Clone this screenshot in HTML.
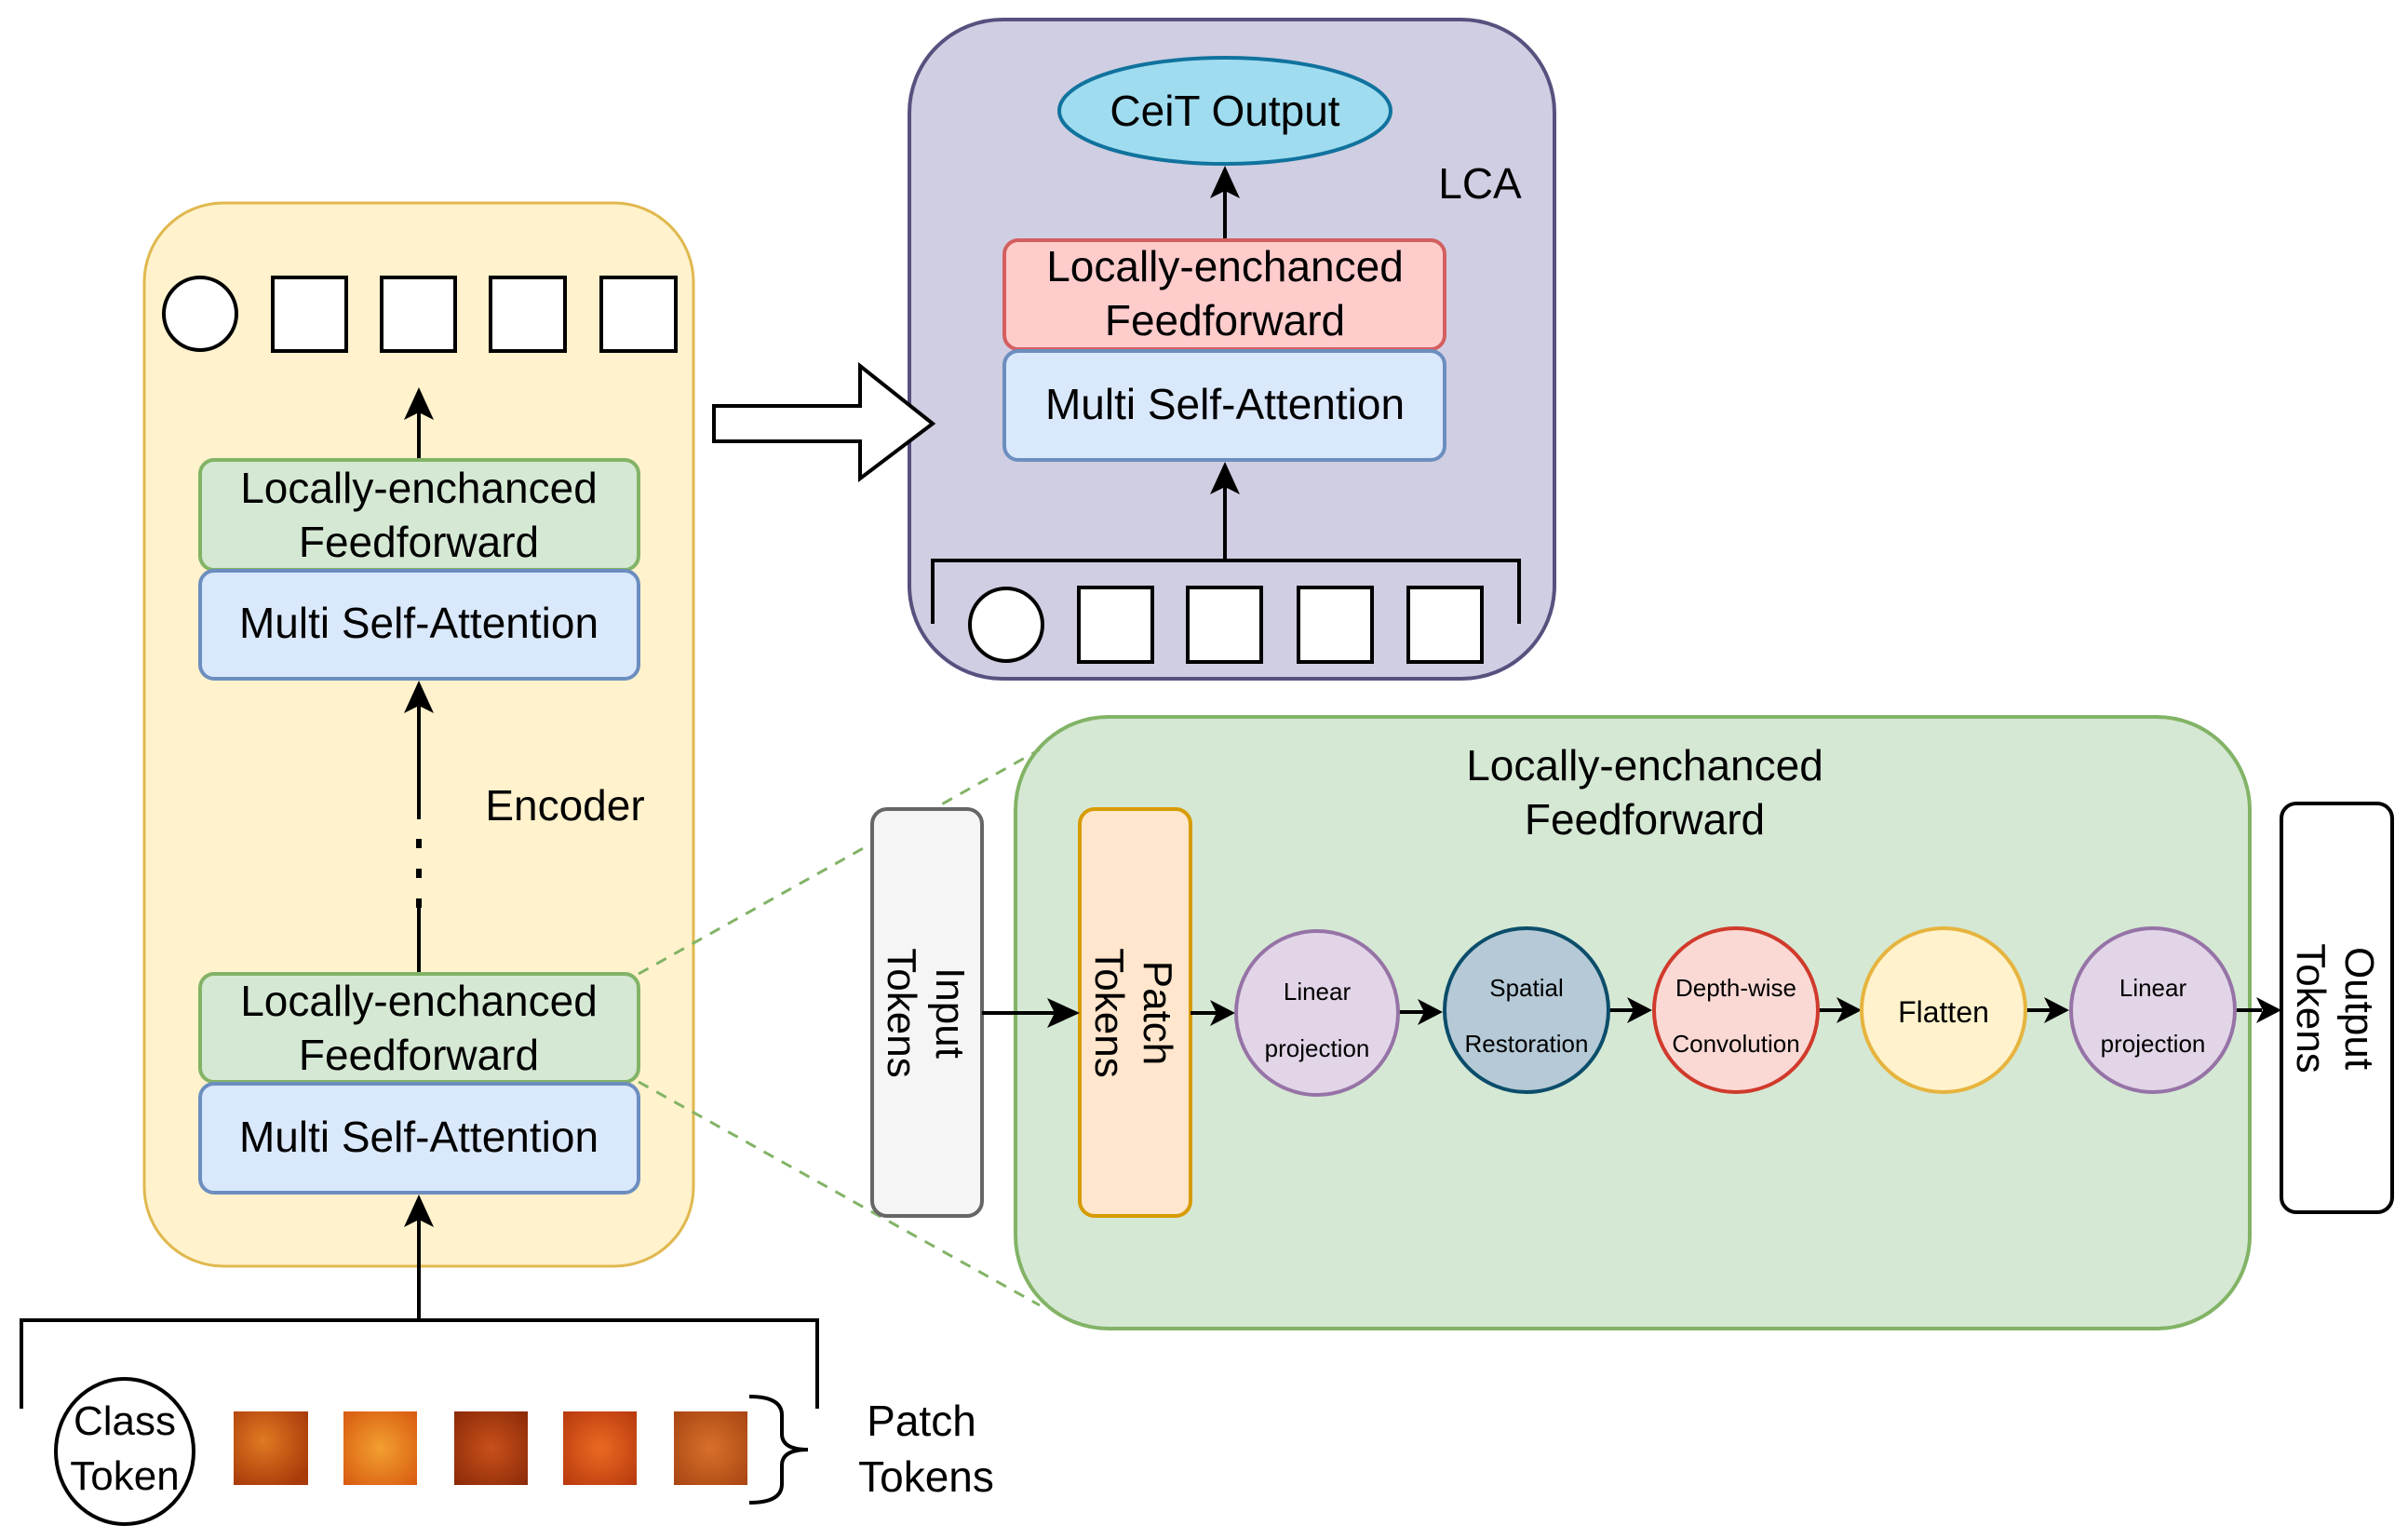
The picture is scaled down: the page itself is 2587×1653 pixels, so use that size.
<!DOCTYPE html>
<html><head><meta charset="utf-8"><style>
html,body{margin:0;padding:0;background:#fff;}
svg{display:block;}
text{font-family:"Liberation Sans",sans-serif;fill:#000;}
</style></head><body>
<svg width="2587" height="1653" viewBox="0 0 2587 1653" xmlns="http://www.w3.org/2000/svg">
<!-- Encoder -->
<rect x="155" y="218" width="590" height="1142" rx="85" fill="#fff2cc" stroke="#e0b84e" stroke-width="3"/>
<circle cx="215" cy="337" r="39" fill="#fff" stroke="#000" stroke-width="4"/>
<rect x="293" y="298" width="79" height="79" fill="#fff" stroke="#000" stroke-width="4"/>
<rect x="410" y="298" width="79" height="79" fill="#fff" stroke="#000" stroke-width="4"/>
<rect x="527" y="298" width="80" height="79" fill="#fff" stroke="#000" stroke-width="4"/>
<rect x="646" y="298" width="80" height="79" fill="#fff" stroke="#000" stroke-width="4"/>
<line x1="450" y1="494" x2="450" y2="440" stroke="#000" stroke-width="4"/>
<polygon points="450,416 434,451 450,443 466,451" fill="#000"/>
<rect x="215" y="494" width="471" height="118" rx="15" fill="#d5e8d4" stroke="#82b366" stroke-width="4"/>
<text x="450" y="540" font-size="46" text-anchor="middle">Locally-enchanced</text>
<text x="450" y="598" font-size="46" text-anchor="middle">Feedforward</text>
<rect x="215" y="613" width="471" height="116" rx="15" fill="#dae8fc" stroke="#6c8ebf" stroke-width="4"/>
<text x="450" y="685" font-size="46" text-anchor="middle">Multi Self-Attention</text>
<line x1="450" y1="1046" x2="450" y2="975" stroke="#000" stroke-width="4"/>
<line x1="450" y1="975" x2="450" y2="880" stroke="#000" stroke-width="6" stroke-dasharray="10,22"/>
<line x1="450" y1="880" x2="450" y2="755" stroke="#000" stroke-width="4"/>
<polygon points="450,731 434,766 450,758 466,766" fill="#000"/>
<text x="607" y="881" font-size="46" text-anchor="middle">Encoder</text>
<rect x="215" y="1046" width="471" height="116" rx="15" fill="#d5e8d4" stroke="#82b366" stroke-width="4"/>
<text x="450" y="1091" font-size="46" text-anchor="middle">Locally-enchanced</text>
<text x="450" y="1149" font-size="46" text-anchor="middle">Feedforward</text>
<rect x="215" y="1164" width="471" height="117" rx="15" fill="#dae8fc" stroke="#6c8ebf" stroke-width="4"/>
<text x="450" y="1237" font-size="46" text-anchor="middle">Multi Self-Attention</text>
<line x1="450" y1="1418" x2="450" y2="1307" stroke="#000" stroke-width="4"/>
<polygon points="450,1283 434,1318 450,1310 466,1318" fill="#000"/>
<!-- bottom bracket -->
<polyline points="23,1513 23,1418 878,1418 878,1513" fill="none" stroke="#000" stroke-width="4"/>
<ellipse cx="134" cy="1559" rx="74" ry="78" fill="#fff" stroke="#000" stroke-width="4"/>
<text x="134" y="1541" font-size="44" text-anchor="middle">Class</text>
<text x="134" y="1600" font-size="44" text-anchor="middle">Token</text>
<defs>
<radialGradient id="p1" cx="40%" cy="40%" r="70%"><stop offset="0" stop-color="#e07a22"/><stop offset="1" stop-color="#a93a0a"/></radialGradient>
<radialGradient id="p2" cx="50%" cy="50%" r="70%"><stop offset="0" stop-color="#f2a030"/><stop offset="1" stop-color="#d85a10"/></radialGradient>
<radialGradient id="p3" cx="50%" cy="50%" r="70%"><stop offset="0" stop-color="#c9501a"/><stop offset="1" stop-color="#8a2a08"/></radialGradient>
<radialGradient id="p4" cx="50%" cy="50%" r="70%"><stop offset="0" stop-color="#ea6a22"/><stop offset="1" stop-color="#b8380e"/></radialGradient>
<radialGradient id="p5" cx="50%" cy="50%" r="70%"><stop offset="0" stop-color="#d8702a"/><stop offset="1" stop-color="#a84512"/></radialGradient>
</defs>
<rect x="251" y="1516" width="80" height="79" fill="url(#p1)"/>
<rect x="369" y="1516" width="79" height="79" fill="url(#p2)"/>
<rect x="488" y="1516" width="79" height="79" fill="url(#p3)"/>
<rect x="605" y="1516" width="79" height="79" fill="url(#p4)"/>
<rect x="724" y="1516" width="79" height="79" fill="url(#p5)"/>
<path d="M805,1500 Q840,1500 840,1520 L840,1540 Q840,1557 868,1557 Q840,1557 840,1574 L840,1594 Q840,1614 805,1614" fill="none" stroke="#000" stroke-width="4"/>
<text x="990" y="1542" font-size="46" text-anchor="middle">Patch</text>
<text x="995" y="1602" font-size="46" text-anchor="middle">Tokens</text>
<!-- LCA -->
<rect x="977" y="21" width="693" height="708" rx="100" fill="#d0cee2" stroke="#56517e" stroke-width="4"/>
<!-- big arrow -->
<polygon points="767,436 924,436 924,393 1002,455 924,514 924,474 767,474" fill="#fff" stroke="#000" stroke-width="4"/>
<ellipse cx="1316" cy="119" rx="178" ry="57" fill="#a0dcf0" stroke="#10739e" stroke-width="4"/>
<text x="1316" y="135" font-size="46" text-anchor="middle">CeiT Output</text>
<text x="1590" y="213" font-size="46" text-anchor="middle">LCA</text>
<line x1="1316" y1="258" x2="1316" y2="200" stroke="#000" stroke-width="4"/>
<polygon points="1316,178 1300,213 1316,205 1332,213" fill="#000"/>
<rect x="1079" y="258" width="473" height="117" rx="15" fill="#ffcccc" stroke="#d35f5f" stroke-width="4"/>
<text x="1316" y="302" font-size="46" text-anchor="middle">Locally-enchanced</text>
<text x="1316" y="360" font-size="46" text-anchor="middle">Feedforward</text>
<rect x="1079" y="377" width="473" height="117" rx="15" fill="#dae8fc" stroke="#6c8ebf" stroke-width="4"/>
<text x="1316" y="450" font-size="46" text-anchor="middle">Multi Self-Attention</text>
<line x1="1316" y1="602" x2="1316" y2="518" stroke="#000" stroke-width="4"/>
<polygon points="1316,496 1300,531 1316,523 1332,531" fill="#000"/>
<polyline points="1002,670 1002,602 1632,602 1632,670" fill="none" stroke="#000" stroke-width="4"/>
<circle cx="1081" cy="671" r="39" fill="#fff" stroke="#000" stroke-width="4"/>
<rect x="1159" y="631" width="79" height="80" fill="#fff" stroke="#000" stroke-width="4"/>
<rect x="1276" y="631" width="79" height="80" fill="#fff" stroke="#000" stroke-width="4"/>
<rect x="1395" y="631" width="79" height="80" fill="#fff" stroke="#000" stroke-width="4"/>
<rect x="1513" y="631" width="79" height="80" fill="#fff" stroke="#000" stroke-width="4"/>
<!-- LeFF detail -->
<rect x="1091" y="770" width="1326" height="657" rx="100" fill="#d5e8d4" stroke="#82b366" stroke-width="4"/>
<line x1="686" y1="1046" x2="1117" y2="805" stroke="#82b366" stroke-width="3" stroke-dasharray="12,10"/>
<line x1="686" y1="1162" x2="1117" y2="1402" stroke="#82b366" stroke-width="3" stroke-dasharray="12,10"/>
<text x="1767" y="838" font-size="46" text-anchor="middle">Locally-enchanced</text>
<text x="1767" y="896" font-size="46" text-anchor="middle">Feedforward</text>
<rect x="937" y="869" width="118" height="437" rx="16" fill="#f5f5f5" stroke="#666" stroke-width="4"/>
<g transform="translate(996,1088) rotate(90)"><text x="0" y="-10" font-size="44" text-anchor="middle">Input</text><text x="0" y="42" font-size="44" text-anchor="middle">Tokens</text></g>
<rect x="1160" y="869" width="119" height="437" rx="16" fill="#ffe6cc" stroke="#d79b00" stroke-width="4"/>
<g transform="translate(1219,1088) rotate(90)"><text x="0" y="-10" font-size="44" text-anchor="middle">Patch</text><text x="0" y="42" font-size="44" text-anchor="middle">Tokens</text></g>
<rect x="2451" y="863" width="119" height="439" rx="16" fill="#fff" stroke="#000" stroke-width="4"/>
<g transform="translate(2510,1083) rotate(90)"><text x="0" y="-10" font-size="44" text-anchor="middle">Output</text><text x="0" y="42" font-size="44" text-anchor="middle">Tokens</text></g>
<!-- arrows -->
<g stroke="#000" stroke-width="4">
<line x1="1055" y1="1088" x2="1140" y2="1088"/>
<line x1="1279" y1="1088" x2="1310" y2="1088"/>
<line x1="1503" y1="1087" x2="1533" y2="1087"/>
<line x1="1728" y1="1085" x2="1758" y2="1085"/>
<line x1="1953" y1="1085" x2="1982" y2="1085"/>
<line x1="2176" y1="1085" x2="2206" y2="1085"/>
<line x1="2401" y1="1085" x2="2430" y2="1085"/>
</g>
<g fill="#000">
<polygon points="1160,1088 1125,1072 1133,1088 1125,1104"/>
<polygon points="1327,1088 1300,1074 1307,1088 1300,1102"/>
<polygon points="1550,1087 1523,1073 1530,1087 1523,1101"/>
<polygon points="1775,1085 1748,1071 1755,1085 1748,1099"/>
<polygon points="2000,1085 1973,1071 1980,1085 1973,1099"/>
<polygon points="2223,1085 2196,1071 2203,1085 2196,1099"/>
<polygon points="2451,1085 2424,1071 2431,1085 2424,1099"/>
</g>
<!-- circles -->
<ellipse cx="1415" cy="1088" rx="87" ry="88" fill="#e1d5e7" stroke="#9673a6" stroke-width="4"/>
<text x="1415" y="1074" font-size="26" text-anchor="middle">Linear</text>
<text x="1415" y="1135" font-size="26" text-anchor="middle">projection</text>
<ellipse cx="1640" cy="1085" rx="88" ry="88" fill="#b5c9d6" stroke="#0b4d6a" stroke-width="4"/>
<text x="1640" y="1070" font-size="26" text-anchor="middle">Spatial</text>
<text x="1640" y="1130" font-size="26" text-anchor="middle">Restoration</text>
<ellipse cx="1865" cy="1085" rx="88" ry="88" fill="#fad9d5" stroke="#d03a2c" stroke-width="4"/>
<text x="1865" y="1070" font-size="26" text-anchor="middle">Depth-wise</text>
<text x="1865" y="1130" font-size="26" text-anchor="middle">Convolution</text>
<ellipse cx="2088" cy="1085" rx="88" ry="88" fill="#fff2cc" stroke="#e6b43e" stroke-width="4"/>
<text x="2088" y="1098" font-size="32" text-anchor="middle">Flatten</text>
<ellipse cx="2313" cy="1085" rx="88" ry="88" fill="#e1d5e7" stroke="#9673a6" stroke-width="4"/>
<text x="2313" y="1070" font-size="26" text-anchor="middle">Linear</text>
<text x="2313" y="1130" font-size="26" text-anchor="middle">projection</text>
</svg>
</body></html>
